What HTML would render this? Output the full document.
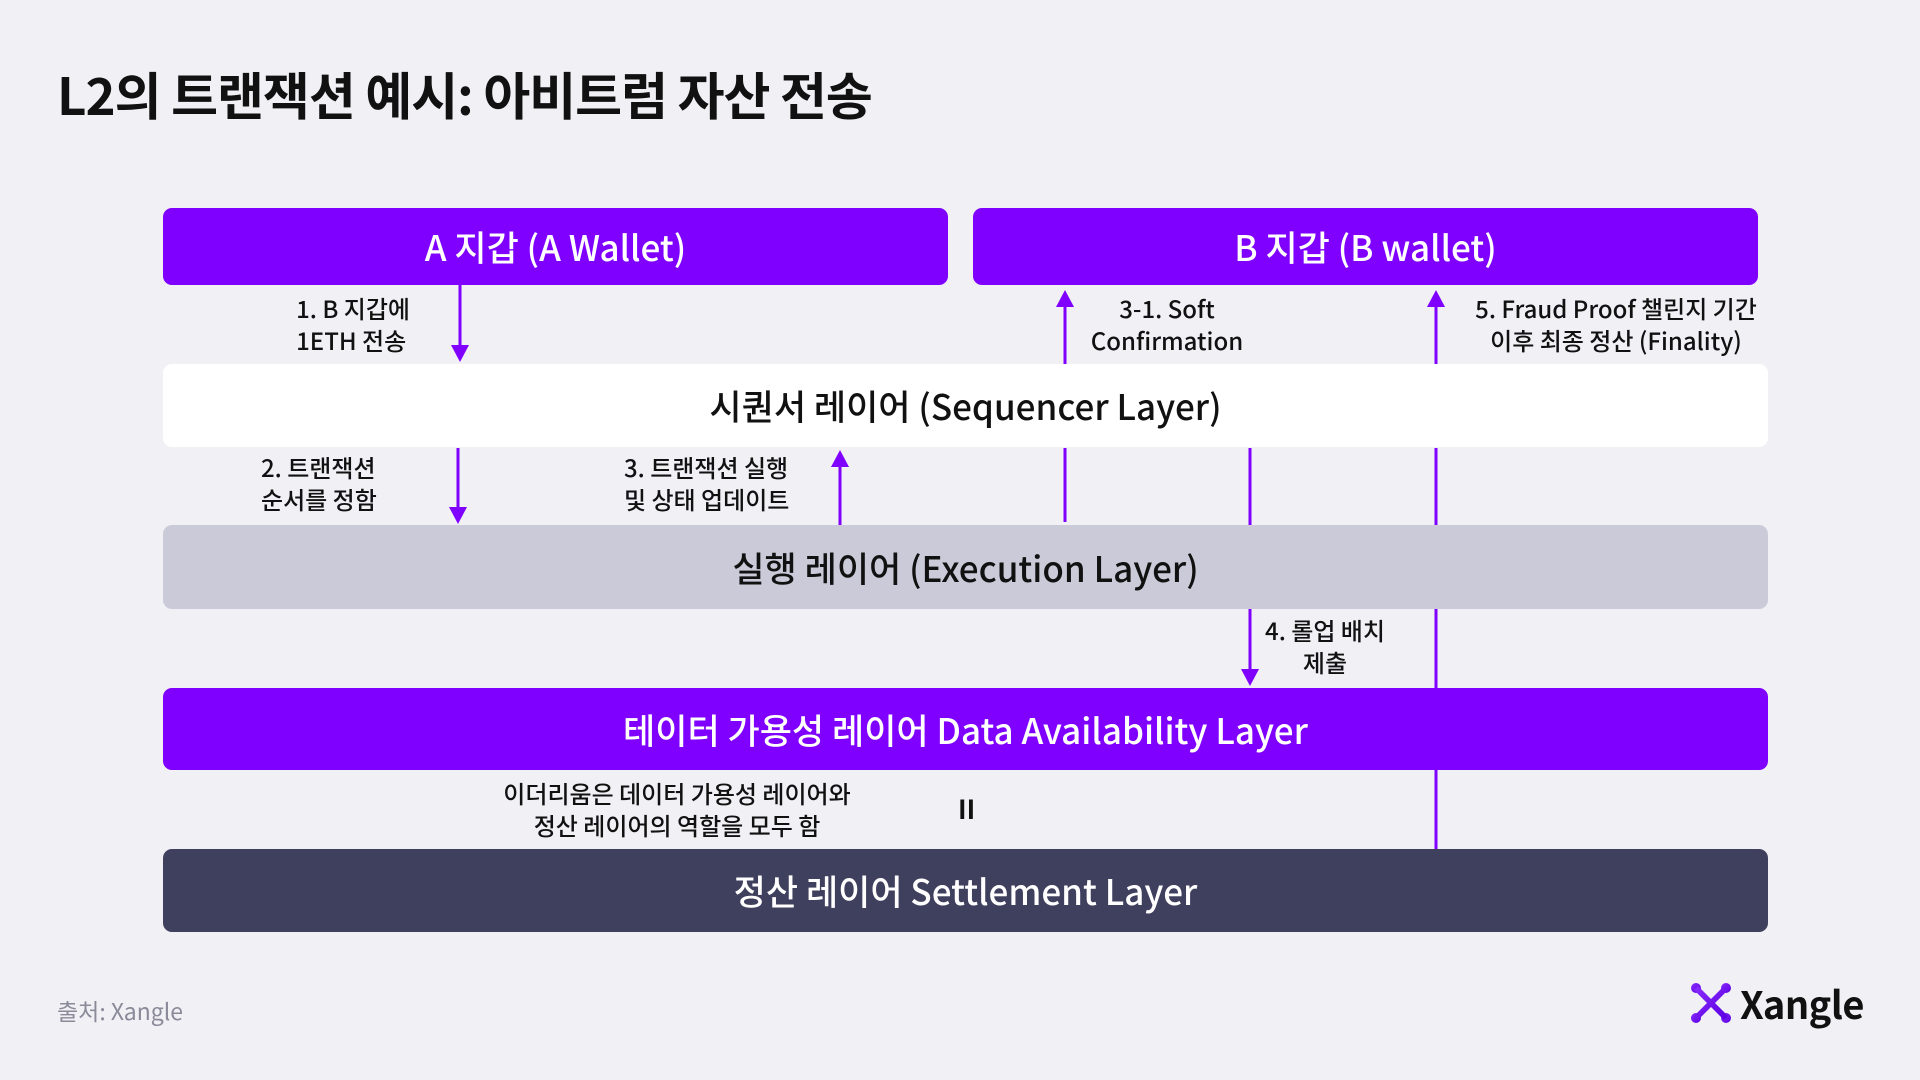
<!DOCTYPE html>
<html><head><meta charset="utf-8">
<style>
html,body{margin:0;padding:0}
body{width:1920px;height:1080px;background:#f1f0f5;position:relative;overflow:hidden;font-family:"Noto Sans CJK KR","Liberation Sans",sans-serif}
.box{position:absolute;display:flex;align-items:center;justify-content:center;border-radius:9px;font-size:35px;font-weight:500;color:#fff}
.lbl{position:absolute;font-size:24px;line-height:32px;color:#111;white-space:nowrap;font-weight:500}
</style></head><body>
<div style="position:absolute;left:57px;top:56px;font-size:51px;font-weight:700;color:#111;letter-spacing:-1px">L2의 트랜잭션 예시: 아비트럼 자산 전송</div>

<div class="box" style="left:163px;top:208px;width:785px;height:77px;background:#7f00ff">A 지갑 (A Wallet)</div>
<div class="box" style="left:973px;top:208px;width:785px;height:77px;background:#7f00ff">B 지갑 (B wallet)</div>
<div class="box" style="left:163px;top:364px;width:1605px;height:83px;background:#fff;color:#111">시퀀서 레이어 (Sequencer Layer)</div>
<div class="box" style="left:163px;top:525px;width:1605px;height:84px;background:#cbcad9;color:#111">실행 레이어 (Execution Layer)</div>
<div class="box" style="left:163px;top:688px;width:1605px;height:82px;background:#7f00ff">테이터 가용성 레이어 Data Availability Layer</div>
<div class="box" style="left:163px;top:849px;width:1605px;height:83px;background:#3f3f5e">정산 레이어 Settlement Layer</div>

<svg width="1920" height="1080" style="position:absolute;left:0;top:0" fill="#7f00ff" stroke="#7f00ff">
<g stroke-width="3">
<line x1="460" y1="285" x2="460" y2="350"/>
<line x1="458" y1="448" x2="458" y2="511"/>
<line x1="840" y1="465" x2="840" y2="525"/>
<line x1="1065" y1="305" x2="1065" y2="364"/>
<line x1="1065" y1="448" x2="1065" y2="522"/>
<line x1="1250" y1="448" x2="1250" y2="525"/>
<line x1="1250" y1="609" x2="1250" y2="674"/>
<line x1="1436" y1="305" x2="1436" y2="364"/>
<line x1="1436" y1="448" x2="1436" y2="525"/>
<line x1="1436" y1="609" x2="1436" y2="688"/>
<line x1="1436" y1="770" x2="1436" y2="849"/>
</g>
<g stroke="none">
<polygon points="451,345 469,345 460,362"/>
<polygon points="449,507 467,507 458,524"/>
<polygon points="831,467 849,467 840,450"/>
<polygon points="1056,307 1074,307 1065,290"/>
<polygon points="1241,669 1259,669 1250,686"/>
<polygon points="1427,307 1445,307 1436,290"/>
</g>
</svg>

<div class="lbl" style="right:1510px;top:292px;text-align:left">1. B 지갑에<br>1ETH 전송</div>
<div class="lbl" style="left:261px;top:451px">2. 트랜잭션<br>순서를 정함</div>
<div class="lbl" style="left:624px;top:451px">3. 트랜잭션 실행<br>및 상태 업데이트</div>
<div class="lbl" style="left:1067px;width:200px;top:292px;text-align:center">3-1. Soft<br>Confirmation</div>
<div class="lbl" style="left:1466px;width:300px;top:292px;text-align:center">5. Fraud Proof 챌린지 기간<br>이후 최종 정산 (Finality)</div>
<div class="lbl" style="left:1225px;width:200px;top:614px;text-align:center">4. 롤업 배치<br>제출</div>
<div class="lbl" style="left:477px;width:400px;top:777px;text-align:center">이더리움은 데이터 가용성 레이어와<br>정산 레이어의 역할을 모두 함</div>
<div class="lbl" style="left:958px;top:793px;font-weight:700;font-size:26px">II</div>

<div style="position:absolute;left:57px;top:993px;font-size:23px;color:#8a8a99">출처: Xangle</div>

<svg width="40" height="40" viewBox="0 0 40 40" style="position:absolute;left:1691px;top:983px">
<defs><linearGradient id="g" x1="0" y1="0" x2="1" y2="1"><stop offset="0" stop-color="#8a2cff"/><stop offset="1" stop-color="#5a00e0"/></linearGradient></defs>
<g fill="url(#g)">
<circle cx="5" cy="5" r="5"/><circle cx="35" cy="5" r="5"/><circle cx="5" cy="35" r="5"/><circle cx="35" cy="35" r="5"/>
<polygon points="3,7 7,3 20,16 33,3 37,7 24,20 37,33 33,37 20,24 7,37 3,33 16,20"/>
</g>
</svg>
<div style="position:absolute;left:1740px;top:975px;font-size:38px;font-weight:700;color:#111;letter-spacing:-0.5px">Xangle</div>
</body></html>
